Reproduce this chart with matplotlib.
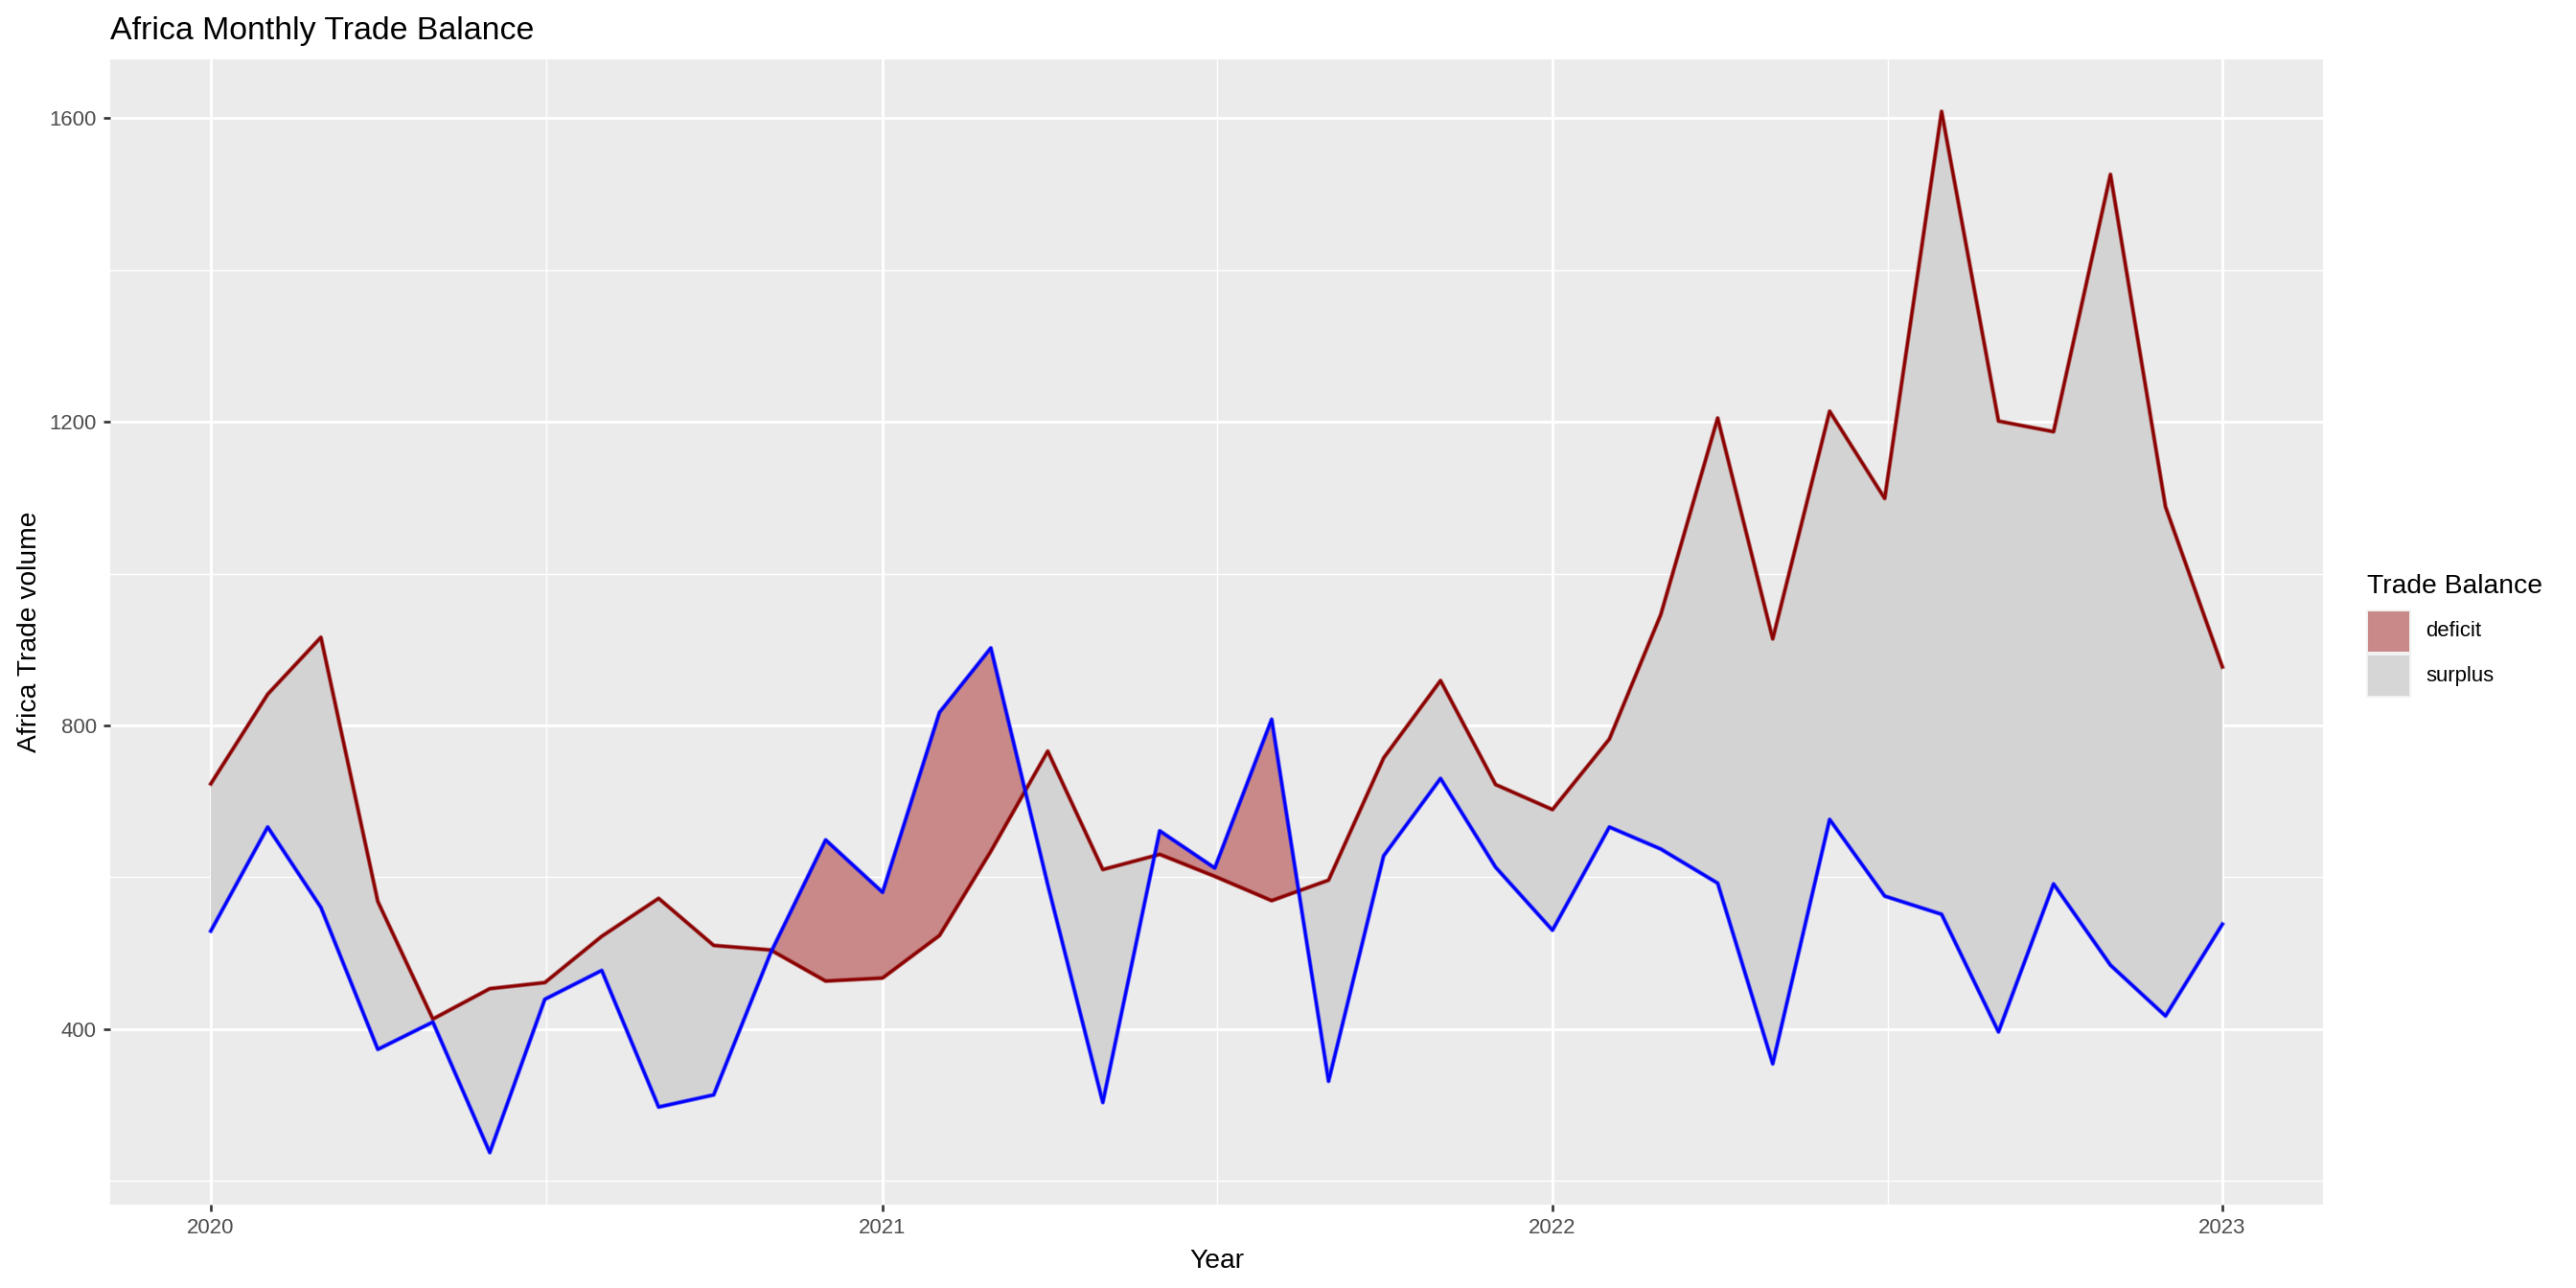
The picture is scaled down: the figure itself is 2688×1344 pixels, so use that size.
import datetime as dt
import numpy as np
import matplotlib
matplotlib.use("Agg")
import matplotlib.pyplot as plt
import matplotlib.dates as mdates
from matplotlib.patches import Rectangle

# ---------------- data ----------------
months = [dt.date(2020 + (i // 12), i % 12 + 1, 1) for i in range(37)]
exports = [723, 841, 916, 568, 413, 453, 461, 522, 572, 510, 504, 463,
           467, 523, 634, 766, 610, 630, 601, 569, 596, 757, 859, 722,
           689, 782, 946, 1205, 914, 1214, 1099, 1609, 1201, 1187, 1526, 1088,
           877]
imports = [529, 666, 560, 373, 409, 237, 439, 477, 297, 313, 500, 649,
           580, 817, 902, 590, 303, 661, 612, 808, 331, 628, 730, 613,
           530, 666, 637, 592, 354, 676, 575, 551, 396, 591, 484, 417,
           538]
year_ticks = [2020, 2021, 2022, 2023]
y_major = [400, 800, 1200, 1600]
y_minor = [200, 600, 1000, 1400]
legend_labels = ["deficit", "surplus"]

# ---------------- style ----------------
FONT = ["Liberation Sans", "DejaVu Sans"]
plt.rcParams["font.family"] = FONT
W, H, DPI = 2688, 1344, 192
fig = plt.figure(figsize=(W / DPI, H / DPI), dpi=DPI)
fig.patch.set_facecolor("white")

L, R, T, B = 115, 2424, 62, 1257
ax = fig.add_axes([L / W, 1 - B / H, (R - L) / W, (B - T) / H])
ax.set_facecolor("#EBEBEB")
for s in ax.spines.values():
    s.set_visible(False)

x = mdates.date2num(months)
ex = np.array(exports, float)
im = np.array(imports, float)

DEF_COL = "#C98989"
SUR_COL = "#D3D3D3"

ax.fill_between(x, ex, im, where=im > ex, interpolate=True,
                facecolor=DEF_COL, edgecolor="none", zorder=2)
ax.fill_between(x, ex, im, where=ex >= im, interpolate=True,
                facecolor=SUR_COL, edgecolor="none", zorder=2)

for vals, col, z in [(ex, "#8B0000", 3), (im, "#0000FF", 5)]:
    ax.plot(x, vals, color=col, lw=1.7, alpha=0.55,
            solid_joinstyle="round", zorder=z)
    ax.plot(x, vals, color=col, lw=1.05,
            solid_joinstyle="round", zorder=z + 0.5)

# limits (ggplot 5% expansion)
xmin, xmax = x.min(), x.max()
xr = xmax - xmin
ax.set_xlim(xmin - 0.05 * xr, xmax + 0.05 * xr)
ymin, ymax = min(ex.min(), im.min()), max(ex.max(), im.max())
yr = ymax - ymin
ax.set_ylim(ymin - 0.05 * yr, ymax + 0.05 * yr)

# ticks & grid
xt = mdates.date2num([dt.date(y, 1, 1) for y in year_ticks])
ax.set_xticks(xt)
ax.set_xticklabels([str(y) for y in year_ticks])
xminor = [(xt[i] + xt[i + 1]) / 2 for i in range(len(xt) - 1)]
ax.set_xticks(xminor, minor=True)
ax.set_yticks(y_major)
ax.set_yticklabels([str(v) for v in y_major])
ax.set_yticks(y_minor, minor=True)

ax.grid(which="major", color="white", lw=1.1, zorder=1)
ax.grid(which="minor", color="white", lw=0.55, zorder=1)
ax.set_axisbelow(True)

ax.tick_params(which="major", length=2.75, width=1.0, color="#333333",
               labelsize=8.3, labelcolor="#4D4D4D", pad=2.5)
ax.tick_params(which="minor", length=0)

ax.set_xlabel("Year", fontsize=10.6, color="black", labelpad=4)
ax.set_ylabel("Africa Trade volume", fontsize=10.6, color="black", labelpad=3)

fig.text(L / W, 1 - 41 / H, "Africa Monthly Trade Balance", fontsize=12.7,
         ha="left", va="baseline", color="black")

# ---------------- legend ----------------
def fy(py):
    return 1 - py / H

fig.text(2470 / W, fy(619), "Trade Balance", fontsize=10.6,
         ha="left", va="baseline", color="black")
key_cols = [DEF_COL, "#D6D6D6"]
key_tops = [636, 682]
for lab, col, top in zip(legend_labels, key_cols, key_tops):
    fig.add_artist(Rectangle((2469 / W, fy(top + 46)), 47 / W, 46 / H,
                             transform=fig.transFigure, facecolor="#F2F2F2",
                             edgecolor="none"))
    fig.add_artist(Rectangle((2471 / W, fy(top + 44)), 43 / W, 42 / H,
                             transform=fig.transFigure, facecolor=col,
                             edgecolor="none"))
    fig.text(2531 / W, fy(top + 23), lab, fontsize=8.3, ha="left",
             va="center", color="black")

fig.savefig("out.png", dpi=DPI)
